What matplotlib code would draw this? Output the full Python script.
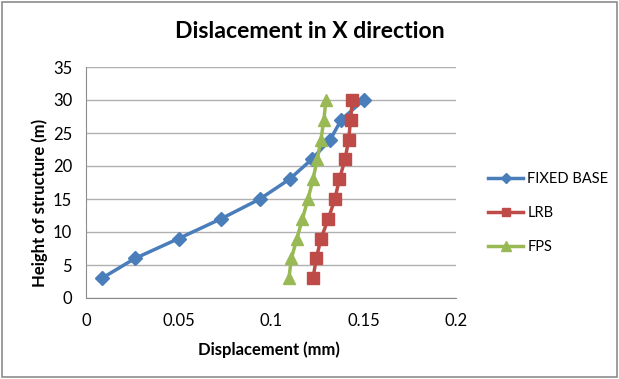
import matplotlib.pyplot as plt
from matplotlib.patches import Rectangle

heights = [3, 6, 9, 12, 15, 18, 21, 24, 27, 30]
fixed_base = [0.0086, 0.0265, 0.050, 0.073, 0.094, 0.110, 0.122, 0.132, 0.138, 0.150]
lrb = [0.1227, 0.1245, 0.127, 0.131, 0.1345, 0.137, 0.140, 0.142, 0.143, 0.144]
fps = [0.1097, 0.111, 0.114, 0.117, 0.120, 0.1227, 0.125, 0.127, 0.1286, 0.1297]

plt.rcParams['font.family'] = ['Lato', 'DejaVu Sans']

fig = plt.figure(figsize=(6.19, 3.79), dpi=100)
ax = fig.add_axes([86 / 619, 81 / 379, 370 / 619, 231 / 379])

ax.plot(fixed_base, heights, color='#4a7ebb', lw=2.5, marker='D', ms=7, label='FIXED BASE')
ax.plot(lrb, heights, color='#be4b48', lw=2.5, marker='s', ms=8, label='LRB')
ax.plot(fps, heights, color='#98b954', lw=2.5, marker='^', ms=9, label='FPS')

ax.set_xlim(0, 0.2)
ax.set_ylim(0, 35)
ax.set_xticks([0, 0.05, 0.1, 0.15, 0.2])
ax.set_xticklabels(['0', '0.05', '0.1', '0.15', '0.2'])
ax.set_yticks(range(0, 36, 5))
ax.grid(axis='y', color='#b0b0b0', lw=1)
ax.set_axisbelow(True)
for s in ['top', 'right']:
    ax.spines[s].set_visible(False)
for s in ['left', 'bottom']:
    ax.spines[s].set_color('#8c8c8c')
ax.tick_params(length=0, labelsize=12)
ax.tick_params(axis='x', pad=11)
ax.tick_params(axis='y', pad=10)

fig.text(269 / 619, 1 - 350 / 379, 'Displacement (mm)', fontsize=12, fontweight='bold',
         ha='center', va='center')
fig.text(40 / 619, 1 - 203 / 379, 'Height of structure (m)', fontsize=12, fontweight='bold',
         ha='center', va='center', rotation=90)
fig.text(310 / 619, 1 - 32 / 379, 'Dislacement in X direction', fontsize=16.6,
         fontweight='bold', ha='center', va='center')

ax.legend(loc='center left', bbox_to_anchor=(488 / 619, 1 - 213 / 379),
          bbox_transform=fig.transFigure, frameon=False, fontsize=10.5,
          handlelength=2.4, labelspacing=1.35, handletextpad=0.3,
          borderpad=0, borderaxespad=0, markerscale=0.75)

fig.patches.append(Rectangle((0.003, 0.005), 0.994, 0.99, transform=fig.transFigure,
                             fill=False, edgecolor='#8c8c8c', lw=1.2))

fig.savefig('out.png', dpi=100)
